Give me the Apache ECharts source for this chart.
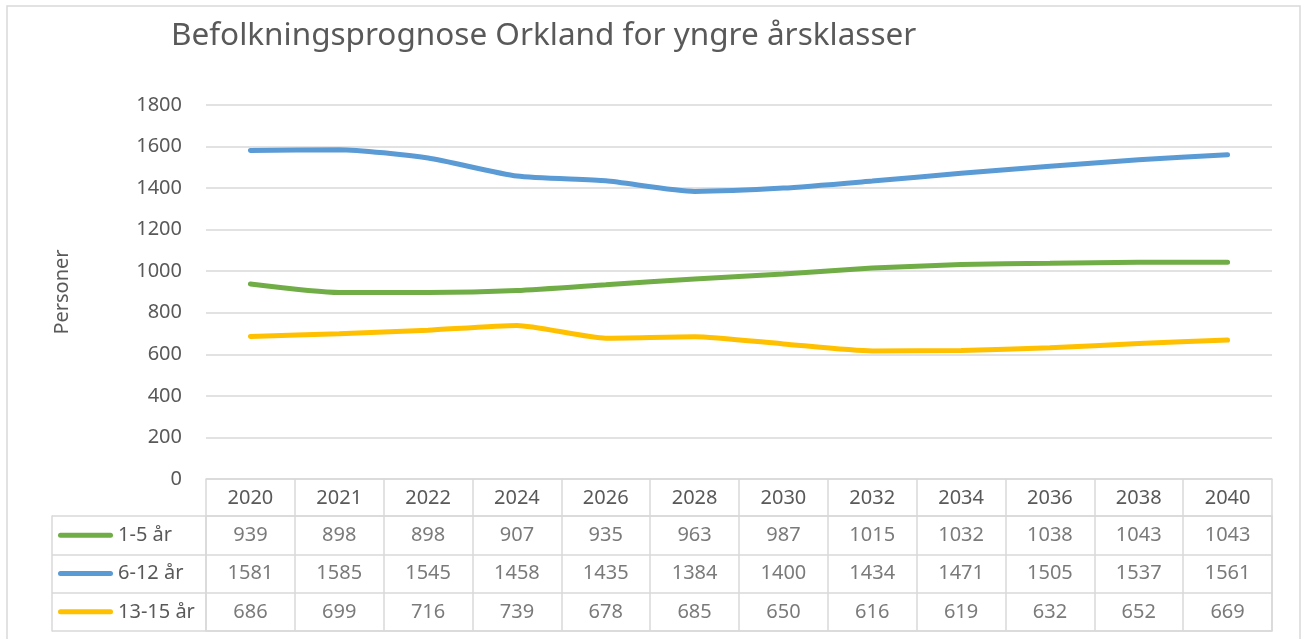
<!DOCTYPE html>
<html>
<head>
<meta charset="utf-8">
<script src="https://cdn.jsdelivr.net/npm/echarts@6/dist/echarts.min.js"></script>
<style>
html,body{margin:0;padding:0;background:#fff;}
#chart{width:1306px;height:639px;}
</style>
</head>
<body>
<div id="chart"></div>
<script>
// data
var years = ['2020','2021','2022','2024','2026','2028','2030','2032','2034','2036','2038','2040'];
var names = ['1-5 år','6-12 år','13-15 år'];
var colors = ['#70AD47','#5B9BD5','#FFC000'];
var v1_5 = [939,898,898,907,935,963,987,1015,1032,1038,1043,1043];
var v6_12 = [1581,1585,1545,1458,1435,1384,1400,1434,1471,1505,1537,1561];
var v13_15 = [686,699,716,739,678,685,650,616,619,632,652,669];
var yTicks = {min:0, max:1800, interval:200};

var values = [v1_5, v6_12, v13_15];
var txt = '#595959';
var border = '#D9D9D9';

var myChart = echarts.init(document.getElementById('chart'));

var lineSeries = [];
var cellSeries = [];
var rich = {t:{fontSize:20,color:txt,padding:[0,0,0,5]}};
function each(arr, fn){ for(var i=0;i<arr.length;i++){ fn(i, arr[i]); } }
each(names, function(i, name){
    lineSeries.push({
        name: name,
        type: 'line',
        xAxisIndex: 0,
        yAxisIndex: 0,
        data: values[i],
        symbol: 'none',
        smooth: 0.2,
        lineStyle: {width: 5, color: colors[i], cap: 'round'},
        itemStyle: {color: colors[i]},
        z: 5
    });
    var cells = [];
    each(values[i], function(j, v){
        cells.push([years[j], name, v]);
    });
    // tabellceller under grafen
    cellSeries.push({
        type: 'scatter',
        xAxisIndex: 1,
        yAxisIndex: 1,
        silent: true,
        symbolSize: 1,
        itemStyle: {color: 'transparent'},
        label: {
            show: true,
            position: 'inside',
            fontSize: 20,
            color: txt,
            formatter: function(p){ return p.value[2]; }
        },
        data: cells
    });
    rich['k' + i] = {backgroundColor: colors[i], width: 55, height: 5, borderRadius: 2.5};
});

var option = {
    backgroundColor: '#fff',
    animation: false,
    textStyle: {fontFamily: 'Noto Sans'},
    title: {
        text: 'Befolkningsprognose Orkland for yngre årsklasser',
        left: 166,
        top: 15,
        textStyle: {fontSize: 31.5, fontWeight: 'normal', color: txt, fontFamily: 'Noto Sans'}
    },
    graphic: [{
        type: 'rect',
        shape: {x: 7, y: 6, width: 1293, height: 700},
        style: {fill: 'none', stroke: border, lineWidth: 1.5},
        silent: true
    }],
    grid: [
        {left: 206, right: 34, top: 105, height: 374},
        {left: 206, right: 34, top: 516, height: 115, show: true, borderColor: border, borderWidth: 1.5}
    ],
    xAxis: [
        {
            gridIndex: 0,
            type: 'category',
            data: years,
            boundaryGap: true,
            axisLine: {lineStyle: {color: border, width: 1.5}},
            axisTick: {show: true, length: 37, interval: 0, lineStyle: {color: border, width: 1.5}},
            axisLabel: {interval: 0, margin: 9, fontSize: 20, color: txt}
        },
        {
            gridIndex: 1,
            type: 'category',
            data: years,
            boundaryGap: true,
            axisLine: {show: false},
            axisTick: {show: false},
            axisLabel: {show: false},
            splitLine: {show: true, interval: 0, lineStyle: {color: border, width: 1.5}}
        }
    ],
    yAxis: [
        {
            gridIndex: 0,
            type: 'value',
            min: yTicks.min,
            max: yTicks.max,
            interval: yTicks.interval,
            name: 'Personer',
            nameLocation: 'middle',
            nameRotate: 90,
            nameGap: 134,
            nameTextStyle: {fontSize: 20, color: txt},
            axisLine: {show: false},
            axisTick: {show: false},
            axisLabel: {fontSize: 20, color: txt, margin: 24, formatter: function(v){ return String(v); }},
            splitLine: {lineStyle: {color: border, width: 1.5}}
        },
        {
            gridIndex: 1,
            type: 'category',
            data: names,
            inverse: true,
            boundaryGap: true,
            axisLine: {show: false},
            axisTick: {show: true, length: 154, interval: 0, lineStyle: {color: border, width: 1.5}},
            axisLabel: {
                interval: 0,
                align: 'left',
                margin: 148,
                formatter: function(v, i){ return '{k' + i + '|}{t|' + v + '}'; },
                rich: rich
            },
            splitLine: {show: true, interval: 0, lineStyle: {color: border, width: 1.5}}
        },
        {
            gridIndex: 1,
            type: 'category',
            data: names,
            position: 'left',
            offset: 154,
            axisLine: {show: true, lineStyle: {color: border, width: 1.5}},
            axisTick: {show: false},
            axisLabel: {show: false}
        }
    ],
    series: lineSeries.concat(cellSeries)
};

myChart.setOption(option);
</script>
</body>
</html>
